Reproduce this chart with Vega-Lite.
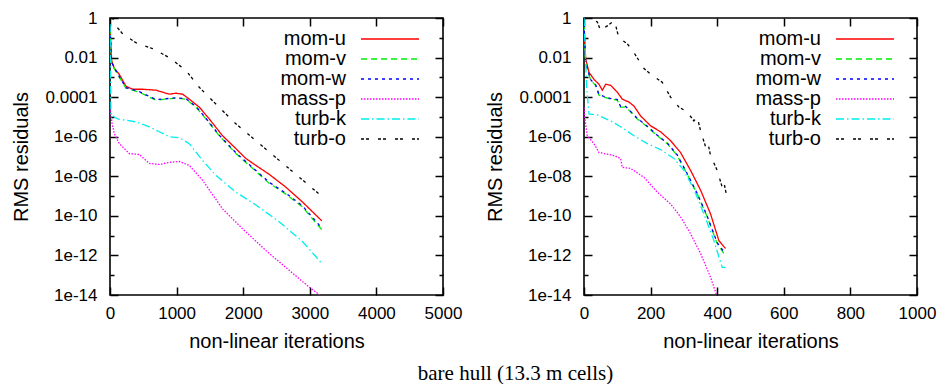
{
"$schema": "https://vega.github.io/schema/vega-lite/v6.json",
"background": "white",
"padding": {"left": 10, "top": 8, "right": 5, "bottom": 0},
"datasets": {
"L": [
{"s":"mom-u","x":0,"r":0.316},{"s":"mom-u","x":25,"r":7.08e-3},{"s":"mom-u","x":65,"r":2.82e-3},{"s":"mom-u","x":140,"r":1.41e-3},{"s":"mom-u","x":240,"r":3.55e-4},{"s":"mom-u","x":340,"r":2.51e-4},{"s":"mom-u","x":490,"r":2.51e-4},{"s":"mom-u","x":690,"r":2.24e-4},{"s":"mom-u","x":890,"r":1.41e-4},{"s":"mom-u","x":990,"r":1.58e-4},{"s":"mom-u","x":1090,"r":1.41e-4},{"s":"mom-u","x":1190,"r":7.94e-5},{"s":"mom-u","x":1340,"r":3.16e-5},{"s":"mom-u","x":1490,"r":7.94e-6},{"s":"mom-u","x":1690,"r":1.12e-6},{"s":"mom-u","x":1890,"r":2.51e-7},{"s":"mom-u","x":2040,"r":7.94e-8},{"s":"mom-u","x":2190,"r":3.55e-8},{"s":"mom-u","x":2390,"r":1.26e-8},{"s":"mom-u","x":2640,"r":2.82e-9},{"s":"mom-u","x":2890,"r":5.01e-10},{"s":"mom-u","x":3180,"r":5.62e-11},
{"s":"mom-v","x":0,"r":0.316},{"s":"mom-v","x":25,"r":5.01e-3},{"s":"mom-v","x":115,"r":1.41e-3},{"s":"mom-v","x":240,"r":2.82e-4},{"s":"mom-v","x":440,"r":1.78e-4},{"s":"mom-v","x":590,"r":1.0e-4},{"s":"mom-v","x":690,"r":7.08e-5},{"s":"mom-v","x":840,"r":7.94e-5},{"s":"mom-v","x":990,"r":8.91e-5},{"s":"mom-v","x":1140,"r":7.94e-5},{"s":"mom-v","x":1290,"r":3.16e-5},{"s":"mom-v","x":1440,"r":7.94e-6},{"s":"mom-v","x":1640,"r":1.12e-6},{"s":"mom-v","x":1890,"r":1.41e-7},{"s":"mom-v","x":2090,"r":3.55e-8},{"s":"mom-v","x":2390,"r":4.47e-9},{"s":"mom-v","x":2640,"r":1.26e-9},{"s":"mom-v","x":2890,"r":2.82e-10},{"s":"mom-v","x":3180,"r":2.0e-11},
{"s":"mom-w","x":0,"r":0.3},{"s":"mom-w","x":25,"r":5.6e-3},{"s":"mom-w","x":115,"r":1.5e-3},{"s":"mom-w","x":240,"r":3.0e-4},{"s":"mom-w","x":440,"r":1.9e-4},{"s":"mom-w","x":590,"r":1.1e-4},{"s":"mom-w","x":690,"r":7.6e-5},{"s":"mom-w","x":840,"r":8.3e-5},{"s":"mom-w","x":990,"r":9.3e-5},{"s":"mom-w","x":1140,"r":8.3e-5},{"s":"mom-w","x":1290,"r":3.4e-5},{"s":"mom-w","x":1440,"r":8.6e-6},{"s":"mom-w","x":1640,"r":1.2e-6},{"s":"mom-w","x":1890,"r":1.55e-7},{"s":"mom-w","x":2090,"r":3.9e-8},{"s":"mom-w","x":2390,"r":5.0e-9},{"s":"mom-w","x":2640,"r":1.4e-9},{"s":"mom-w","x":2890,"r":3.2e-10},{"s":"mom-w","x":3180,"r":2.4e-11},
{"s":"mass-p","x":0,"r":3.0e-5},{"s":"mass-p","x":30,"r":5.0e-6},{"s":"mass-p","x":65,"r":1.41e-6},{"s":"mass-p","x":140,"r":4.47e-7},{"s":"mass-p","x":290,"r":1.41e-7},{"s":"mass-p","x":440,"r":1.26e-7},{"s":"mass-p","x":590,"r":4.47e-8},{"s":"mass-p","x":740,"r":3.98e-8},{"s":"mass-p","x":890,"r":5.01e-8},{"s":"mass-p","x":1040,"r":5.62e-8},{"s":"mass-p","x":1190,"r":3.55e-8},{"s":"mass-p","x":1390,"r":6.31e-9},{"s":"mass-p","x":1690,"r":2.24e-10},{"s":"mass-p","x":1990,"r":2.24e-11},{"s":"mass-p","x":2340,"r":1.78e-12},{"s":"mass-p","x":2690,"r":1.78e-13},{"s":"mass-p","x":2990,"r":2.51e-14},{"s":"mass-p","x":3190,"r":8.0e-15},
{"s":"turb-k","x":0,"r":0.5},{"s":"turb-k","x":15,"r":1.26e-5},{"s":"turb-k","x":115,"r":7.94e-6},{"s":"turb-k","x":390,"r":5.62e-6},{"s":"turb-k","x":590,"r":3.16e-6},{"s":"turb-k","x":740,"r":1.78e-6},{"s":"turb-k","x":890,"r":1.0e-6},{"s":"turb-k","x":1040,"r":8.91e-7},{"s":"turb-k","x":1190,"r":4.47e-7},{"s":"turb-k","x":1390,"r":6.31e-8},{"s":"turb-k","x":1590,"r":1.12e-8},{"s":"turb-k","x":1890,"r":1.58e-9},{"s":"turb-k","x":2190,"r":3.55e-10},{"s":"turb-k","x":2540,"r":5.01e-11},{"s":"turb-k","x":2890,"r":5.01e-12},{"s":"turb-k","x":3180,"r":3.98e-13},
{"s":"turb-o","x":20,"r":2.0},{"s":"turb-o","x":40,"r":1.0},{"s":"turb-o","x":90,"r":0.398},{"s":"turb-o","x":190,"r":0.158},{"s":"turb-o","x":390,"r":5.62e-2},{"s":"turb-o","x":640,"r":2.82e-2},{"s":"turb-o","x":890,"r":1.0e-2},{"s":"turb-o","x":1140,"r":2.24e-3},{"s":"turb-o","x":1340,"r":3.16e-4},{"s":"turb-o","x":1590,"r":4.47e-5},{"s":"turb-o","x":1890,"r":4.47e-6},{"s":"turb-o","x":2190,"r":6.31e-7},{"s":"turb-o","x":2490,"r":8.91e-8},{"s":"turb-o","x":2790,"r":1.26e-8},{"s":"turb-o","x":3140,"r":1.26e-9}
],
"R": [
{"s":"mom-u","x":0,"r":0.5},{"s":"mom-u","x":5,"r":8.91e-3},{"s":"mom-u","x":15,"r":1.78e-3},{"s":"mom-u","x":30,"r":7.94e-4},{"s":"mom-u","x":45,"r":4.47e-4},{"s":"mom-u","x":55,"r":2.24e-4},{"s":"mom-u","x":65,"r":4.47e-4},{"s":"mom-u","x":80,"r":3.98e-4},{"s":"mom-u","x":100,"r":1.78e-4},{"s":"mom-u","x":115,"r":7.94e-5},{"s":"mom-u","x":135,"r":5.62e-5},{"s":"mom-u","x":150,"r":3.55e-5},{"s":"mom-u","x":170,"r":1.12e-5},{"s":"mom-u","x":200,"r":3.55e-6},{"s":"mom-u","x":230,"r":1.78e-6},{"s":"mom-u","x":260,"r":6.31e-7},{"s":"mom-u","x":290,"r":1.58e-7},{"s":"mom-u","x":320,"r":2.0e-8},{"s":"mom-u","x":350,"r":2.0e-9},{"s":"mom-u","x":380,"r":1.26e-10},{"s":"mom-u","x":405,"r":5.62e-12},{"s":"mom-u","x":425,"r":2.24e-12},
{"s":"mom-v","x":0,"r":0.5},{"s":"mom-v","x":5,"r":5.01e-3},{"s":"mom-v","x":20,"r":7.08e-4},{"s":"mom-v","x":35,"r":3.98e-4},{"s":"mom-v","x":45,"r":1.26e-4},{"s":"mom-v","x":60,"r":1.0e-4},{"s":"mom-v","x":80,"r":7.94e-5},{"s":"mom-v","x":100,"r":7.08e-5},{"s":"mom-v","x":110,"r":3.16e-5},{"s":"mom-v","x":125,"r":3.16e-5},{"s":"mom-v","x":140,"r":1.78e-5},{"s":"mom-v","x":160,"r":7.94e-6},{"s":"mom-v","x":190,"r":3.16e-6},{"s":"mom-v","x":220,"r":1.12e-6},{"s":"mom-v","x":250,"r":4.47e-7},{"s":"mom-v","x":280,"r":1.12e-7},{"s":"mom-v","x":310,"r":1.26e-8},{"s":"mom-v","x":340,"r":1.26e-9},{"s":"mom-v","x":370,"r":8.91e-11},{"s":"mom-v","x":400,"r":3.98e-12},{"s":"mom-v","x":422,"r":1.12e-12},
{"s":"mom-w","x":0,"r":0.5},{"s":"mom-w","x":5,"r":5.6e-3},{"s":"mom-w","x":20,"r":7.6e-4},{"s":"mom-w","x":35,"r":4.2e-4},{"s":"mom-w","x":45,"r":1.35e-4},{"s":"mom-w","x":60,"r":1.08e-4},{"s":"mom-w","x":80,"r":8.5e-5},{"s":"mom-w","x":100,"r":7.6e-5},{"s":"mom-w","x":110,"r":3.4e-5},{"s":"mom-w","x":125,"r":3.4e-5},{"s":"mom-w","x":140,"r":1.9e-5},{"s":"mom-w","x":160,"r":8.5e-6},{"s":"mom-w","x":190,"r":3.4e-6},{"s":"mom-w","x":220,"r":1.2e-6},{"s":"mom-w","x":250,"r":4.8e-7},{"s":"mom-w","x":280,"r":1.2e-7},{"s":"mom-w","x":310,"r":1.35e-8},{"s":"mom-w","x":340,"r":1.35e-9},{"s":"mom-w","x":370,"r":9.6e-11},{"s":"mom-w","x":400,"r":4.4e-12},{"s":"mom-w","x":422,"r":1.4e-12},
{"s":"mass-p","x":0,"r":3.0e-5},{"s":"mass-p","x":2,"r":1.0e-5},{"s":"mass-p","x":10,"r":1.12e-6},{"s":"mass-p","x":30,"r":4.47e-7},{"s":"mass-p","x":45,"r":1.58e-7},{"s":"mass-p","x":60,"r":1.41e-7},{"s":"mass-p","x":90,"r":1.12e-7},{"s":"mass-p","x":110,"r":7.94e-8},{"s":"mass-p","x":115,"r":2.82e-8},{"s":"mass-p","x":140,"r":2.51e-8},{"s":"mass-p","x":180,"r":8.91e-9},{"s":"mass-p","x":220,"r":1.58e-9},{"s":"mass-p","x":260,"r":3.98e-10},{"s":"mass-p","x":290,"r":8.91e-11},{"s":"mass-p","x":320,"r":1.26e-11},{"s":"mass-p","x":350,"r":1.26e-12},{"s":"mass-p","x":380,"r":7.94e-14},{"s":"mass-p","x":400,"r":8.0e-15},
{"s":"turb-k","x":0,"r":1.0},{"s":"turb-k","x":8,"r":3.16e-4},{"s":"turb-k","x":15,"r":1.41e-5},{"s":"turb-k","x":40,"r":1.26e-5},{"s":"turb-k","x":80,"r":6.31e-6},{"s":"turb-k","x":120,"r":2.51e-6},{"s":"turb-k","x":150,"r":1.12e-6},{"s":"turb-k","x":190,"r":4.47e-7},{"s":"turb-k","x":230,"r":2.24e-7},{"s":"turb-k","x":270,"r":7.94e-8},{"s":"turb-k","x":300,"r":2.0e-8},{"s":"turb-k","x":330,"r":2.24e-9},{"s":"turb-k","x":360,"r":1.26e-10},{"s":"turb-k","x":390,"r":5.62e-12},{"s":"turb-k","x":415,"r":2.51e-13},{"s":"turb-k","x":425,"r":2.51e-13},
{"s":"turb-o","x":0,"r":2.0},{"s":"turb-o","x":5,"r":1.0},{"s":"turb-o","x":25,"r":0.794},{"s":"turb-o","x":40,"r":0.631},{"s":"turb-o","x":50,"r":0.224},{"s":"turb-o","x":60,"r":0.316},{"s":"turb-o","x":70,"r":0.398},{"s":"turb-o","x":85,"r":0.631},{"s":"turb-o","x":92,"r":0.708},{"s":"turb-o","x":100,"r":0.2},{"s":"turb-o","x":105,"r":0.1},{"s":"turb-o","x":130,"r":5.01e-2},{"s":"turb-o","x":150,"r":1.78e-2},{"s":"turb-o","x":180,"r":2.82e-3},{"s":"turb-o","x":205,"r":1.26e-3},{"s":"turb-o","x":235,"r":5.62e-4},{"s":"turb-o","x":260,"r":1.0e-4},{"s":"turb-o","x":285,"r":3.16e-5},{"s":"turb-o","x":310,"r":1.78e-5},{"s":"turb-o","x":330,"r":6.31e-6},{"s":"turb-o","x":340,"r":1.0e-5},{"s":"turb-o","x":350,"r":2.0e-6},{"s":"turb-o","x":365,"r":3.16e-7},{"s":"turb-o","x":372,"r":5.01e-7},{"s":"turb-o","x":380,"r":1.12e-7},{"s":"turb-o","x":400,"r":2.0e-8},{"s":"turb-o","x":415,"r":2.82e-9},{"s":"turb-o","x":420,"r":5.01e-9},{"s":"turb-o","x":428,"r":1.12e-9}
]
},
"title": {"text": "bare hull (13.3 m cells)", "orient": "bottom", "font": "Liberation Serif", "fontSize": 21, "fontWeight": "normal", "color": "black", "anchor": "middle", "dx": 42, "offset": 11},
"spacing": 21,
"resolve": {"legend": {"color": "independent", "strokeDash": "independent"}},
"hconcat": [
{
"data": {"name": "L"},
"width": 333, "height": 277,
"layer": [
{"mark": {"type": "line", "strokeWidth": 1.3, "clip": true},
 "encoding": {
  "x": {"field": "x", "type": "quantitative", "scale": {"domain": [0, 5000], "nice": false}, "axis": {"orient": "bottom", "values": [0,1000,2000,3000,4000,5000], "format": "d", "title": "non-linear iterations", "tickSize": -8, "labelPadding": 18, "titlePadding": 10}},
  "y": {"field": "r", "type": "quantitative", "scale": {"type": "log", "domain": [1e-14, 1], "nice": false}, "axis": {"orient": "left", "values": [1,0.01,0.0001,1e-6,1e-8,1e-10,1e-12,1e-14], "labelExpr": "datum.value >= 0.0001 ? toString(datum.value) : '1e-' + (round(-log(datum.value)/LN10) < 10 ? '0' : '') + round(-log(datum.value)/LN10)", "title": "RMS residuals", "tickSize": -8, "labelPadding": 21, "titlePadding": 14}},
  "color": {"field": "s", "type": "nominal", "scale": {"domain": ["mom-u","mom-v","mom-w","mass-p","turb-k","turb-o"], "range": ["#ff0000","#00ee00","#0000ff","#ff00ff","#00eeee","#000000"]}, "legend": {"title": null, "orient": "none", "legendX": 270, "legendY": 11}},
  "strokeDash": {"field": "s", "type": "nominal", "scale": {"domain": ["mom-u","mom-v","mom-w","mass-p","turb-k","turb-o"], "range": [[1,0],[6,4],[3,4],[1.5,1.5],[8,3,1.5,3],[3,2,3,9]]}, "legend": {"title": null, "orient": "none", "legendX": 270, "legendY": 11}}
 }},
{"mark": {"type": "point", "opacity": 0},
 "encoding": {
  "x": {"field": "x", "type": "quantitative", "axis": {"orient": "top", "values": [0,1000,2000,3000,4000,5000], "labels": false, "title": null, "tickSize": -8}},
  "y": {"field": "r", "type": "quantitative", "axis": {"orient": "left", "values": [0.1,0.001,1e-5,1e-7,1e-9,1e-11,1e-13], "labels": false, "title": null, "tickSize": -4}}
 }},
{"mark": {"type": "point", "opacity": 0},
 "encoding": {
  "x": {"field": "x", "type": "quantitative", "axis": null},
  "y": {"field": "r", "type": "quantitative", "axis": {"orient": "right", "values": [1,0.01,0.0001,1e-6,1e-8,1e-10,1e-12,1e-14], "labels": false, "title": null, "tickSize": -8}}
 }},
{"mark": {"type": "point", "opacity": 0},
 "encoding": {
  "x": {"field": "x", "type": "quantitative", "axis": null},
  "y": {"field": "r", "type": "quantitative", "axis": {"orient": "right", "values": [0.1,0.001,1e-5,1e-7,1e-9,1e-11,1e-13], "labels": false, "title": null, "tickSize": -4}}
 }}
],
"resolve": {"axis": {"x": "independent", "y": "independent"}}
},
{
"data": {"name": "R"},
"width": 333, "height": 277,
"layer": [
{"mark": {"type": "line", "strokeWidth": 1.3, "clip": true},
 "encoding": {
  "x": {"field": "x", "type": "quantitative", "scale": {"domain": [0, 1000], "nice": false}, "axis": {"orient": "bottom", "values": [0,200,400,600,800,1000], "format": "d", "title": "non-linear iterations", "tickSize": -8, "labelPadding": 18, "titlePadding": 10}},
  "y": {"field": "r", "type": "quantitative", "scale": {"type": "log", "domain": [1e-14, 1], "nice": false}, "axis": {"orient": "left", "values": [1,0.01,0.0001,1e-6,1e-8,1e-10,1e-12,1e-14], "labelExpr": "datum.value >= 0.0001 ? toString(datum.value) : '1e-' + (round(-log(datum.value)/LN10) < 10 ? '0' : '') + round(-log(datum.value)/LN10)", "title": "RMS residuals", "tickSize": -8, "labelPadding": 21, "titlePadding": 14}},
  "color": {"field": "s", "type": "nominal", "scale": {"domain": ["mom-u","mom-v","mom-w","mass-p","turb-k","turb-o"], "range": ["#ff0000","#00ee00","#0000ff","#ff00ff","#00eeee","#000000"]}, "legend": {"title": null, "orient": "none", "legendX": 271, "legendY": 11}},
  "strokeDash": {"field": "s", "type": "nominal", "scale": {"domain": ["mom-u","mom-v","mom-w","mass-p","turb-k","turb-o"], "range": [[1,0],[6,4],[3,4],[1.5,1.5],[8,3,1.5,3],[3,2,3,9]]}, "legend": {"title": null, "orient": "none", "legendX": 271, "legendY": 11}}
 }},
{"mark": {"type": "point", "opacity": 0},
 "encoding": {
  "x": {"field": "x", "type": "quantitative", "axis": {"orient": "top", "values": [0,200,400,600,800,1000], "labels": false, "title": null, "tickSize": -8}},
  "y": {"field": "r", "type": "quantitative", "axis": {"orient": "left", "values": [0.1,0.001,1e-5,1e-7,1e-9,1e-11,1e-13], "labels": false, "title": null, "tickSize": -4}}
 }},
{"mark": {"type": "point", "opacity": 0},
 "encoding": {
  "x": {"field": "x", "type": "quantitative", "axis": null},
  "y": {"field": "r", "type": "quantitative", "axis": {"orient": "right", "values": [1,0.01,0.0001,1e-6,1e-8,1e-10,1e-12,1e-14], "labels": false, "title": null, "tickSize": -8}}
 }},
{"mark": {"type": "point", "opacity": 0},
 "encoding": {
  "x": {"field": "x", "type": "quantitative", "axis": null},
  "y": {"field": "r", "type": "quantitative", "axis": {"orient": "right", "values": [0.1,0.001,1e-5,1e-7,1e-9,1e-11,1e-13], "labels": false, "title": null, "tickSize": -4}}
 }}
],
"resolve": {"axis": {"x": "independent", "y": "independent"}}
}
],
"config": {
 "font": "Liberation Sans",
 "view": {"stroke": "black", "strokeWidth": 1.6},
 "axis": {"domain": false, "grid": false, "ticks": true, "tickColor": "black", "tickWidth": 1.5, "labelFont": "Liberation Sans", "labelFontSize": 17, "labelColor": "black", "titleFont": "Liberation Sans", "titleFontSize": 20, "titleFontWeight": "normal", "titleColor": "black", "labelFlush": false, "labelOverlap": false},
 "legend": {"symbolType": "M-29,0H29", "symbolSize": 4, "symbolStrokeWidth": 1.5, "labelAlign": "right", "labelOffset": -54, "labelFontSize": 20, "labelFont": "Liberation Sans", "labelColor": "black", "rowPadding": 0, "padding": 0, "labelLimit": 0}
}
}
